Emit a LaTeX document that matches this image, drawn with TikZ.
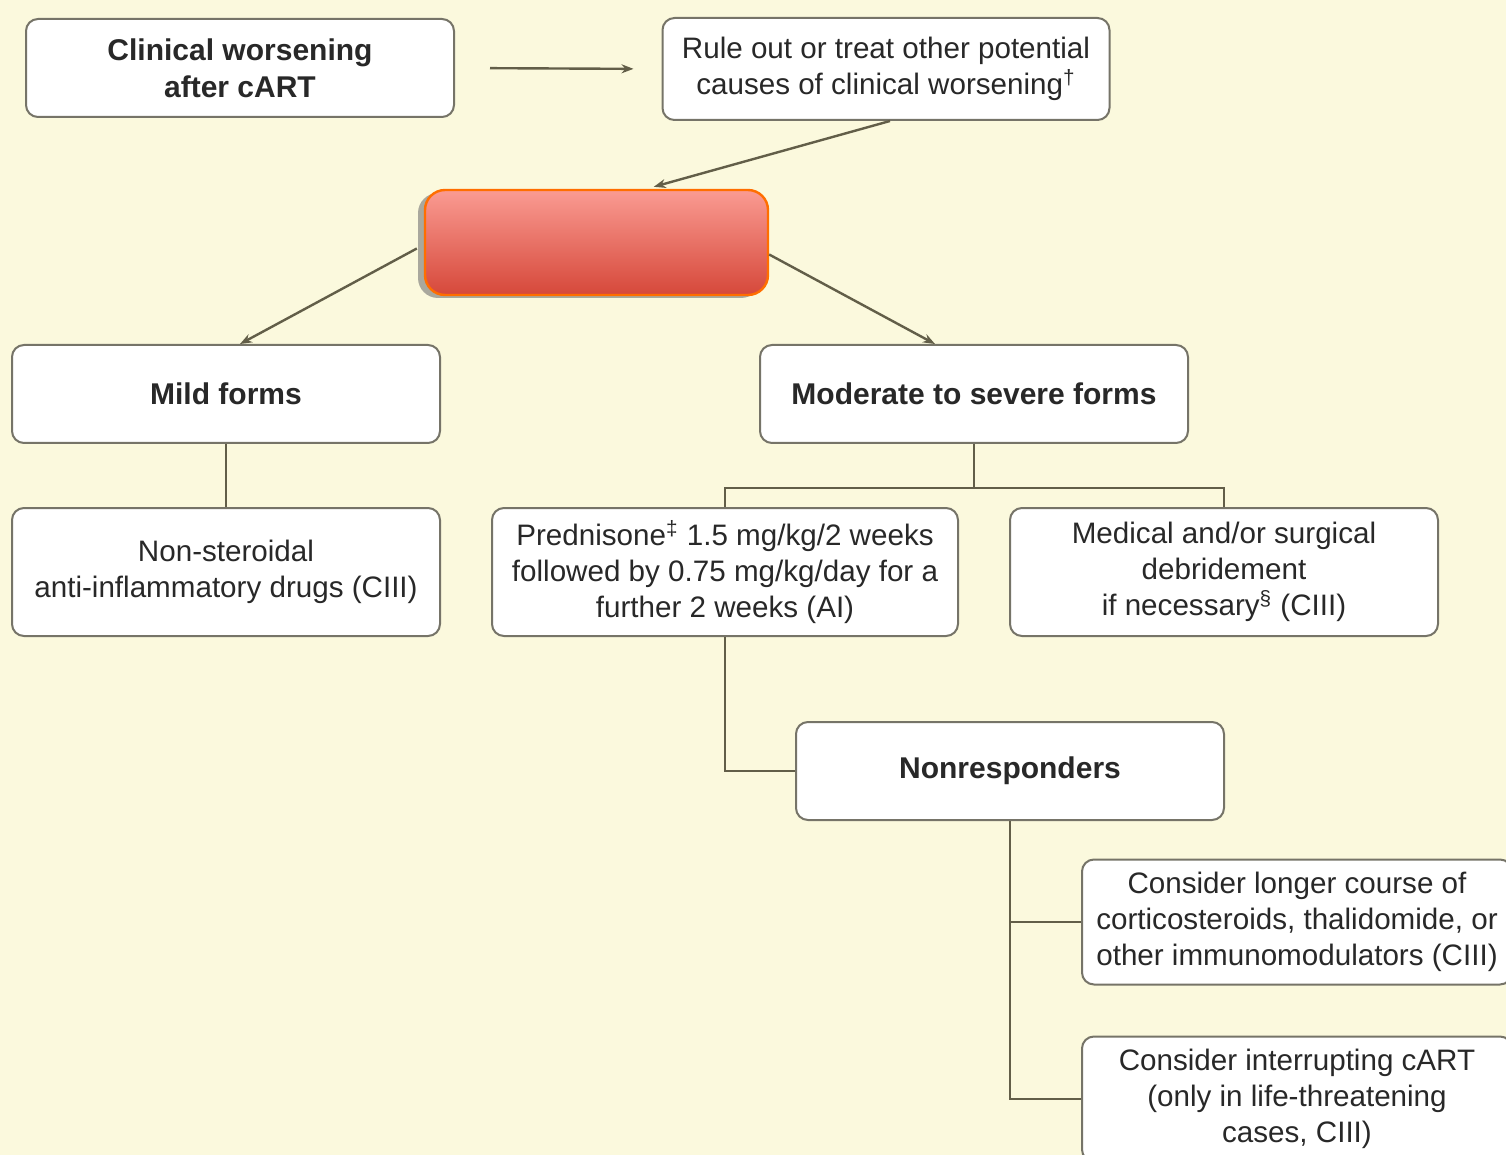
\documentclass[tikz,border=0pt]{standalone}
\usepackage{fontspec}
\setmainfont{Liberation Sans}
\usetikzlibrary{arrows.meta,calc,shadows}

\begin{document}
\begin{tikzpicture}[x=0.5pt,y=-0.5pt,
  box/.style={draw=boxline,line width=1pt,fill=white,rounded corners=6pt,
    align=center,text=txt,font=\fontsize{14.8}{17.9}\selectfont,inner sep=0pt,
    minimum width=214pt,minimum height=49pt},
  bold box/.style={box,font=\fontsize{15}{18.5}\selectfont\bfseries},
  tall box/.style={box,minimum height=64pt},
  link/.style={draw=linkc,line width=1.2pt},
  arrow/.style={link,-{Stealth[length=6pt,width=4.5pt]}}]
\definecolor{bg}{RGB}{251,249,221} \definecolor{boxline}{RGB}{118,116,104}
\definecolor{txt}{RGB}{40,40,40} \definecolor{linkc}{RGB}{98,94,72}
\definecolor{redtop}{RGB}{250,155,146} \definecolor{redbot}{RGB}{214,72,58}
\definecolor{redline}{RGB}{255,110,0}
\fill [bg] (0,0) rectangle (1506,1155);
\useasboundingbox (0,0) rectangle (1506,1155);
\clip (0,0) rectangle (1506,1155);
% top row
\node [bold box] (worse) at (240,68) {Clinical worsening\\after cART};
\node [box,minimum width=223.5pt,minimum height=51pt] (ruleout) at (886,69)
  {Rule out or treat other potential\\causes of clinical worsening\textsuperscript{†}};
% hidden box
\node [rounded corners=10pt,minimum width=171.5pt,minimum height=52.5pt,
  top color=redtop,bottom color=redbot,draw=redline,line width=1.2pt,
  drop shadow={shadow xshift=-3.5pt,shadow yshift=-1.5pt,fill=black!55,opacity=0.6,shadow scale=1}]
  (ddx) at (596.5,242.5) {};
% second row
\node [bold box] (mild) at (226,394) {Mild forms};
\node [bold box] (severe) at (974,394) {Moderate to severe forms};
% treatments
\node [tall box] (nsaid) at (226,572) {Non-steroidal\\anti-inflammatory drugs (CIII)};
\node [tall box,minimum width=233pt] (pred) at (725,572)
  {Prednisone\textsuperscript{‡} 1.5 mg/kg/2 weeks\\followed by 0.75 mg/kg/day for a\\further 2 weeks (AI)};
\node [tall box] (debr) at (1224,572)
  {Medical and/or surgical\\debridement\\if necessary\textsuperscript{§} (CIII)};
\node [bold box] (nonresp) at (1010,771) {Nonresponders};
\node [box,minimum width=215pt,minimum height=62.5pt] (longer) at (1297,922)
  {Consider longer course of\\corticosteroids, thalidomide, or\\other immunomodulators (CIII)};
\node [box,minimum width=215pt,minimum height=62.5pt] (stop) at (1297,1099)
  {Consider interrupting cART\\(only in life-threatening\\cases, CIII)};
% connectors
\draw [arrow,shorten <=17.5pt,shorten >=14pt] (worse.east) -- (ruleout.west);
\draw [arrow] ([xshift=2pt]ruleout.south) -- ($(ddx.north west)+(230,-2)$);
\draw [arrow] ([xshift=-3.5pt,yshift=-3pt]ddx.west) -- ([xshift=7pt]mild.north);
\draw [arrow] ([yshift=-6pt]ddx.east) -- ([xshift=-19.5pt]severe.north);
\draw [link] (mild) -- (nsaid);
\foreach \t in {pred,debr}
  \draw [link] (severe.south) -- ++(0,44) -| (\t.north);
\draw [link] (pred.south) |- (nonresp.west);
\foreach \t in {longer,stop}
  \draw [link] (nonresp.south) |- (\t.west);
\end{tikzpicture}
\end{document}
